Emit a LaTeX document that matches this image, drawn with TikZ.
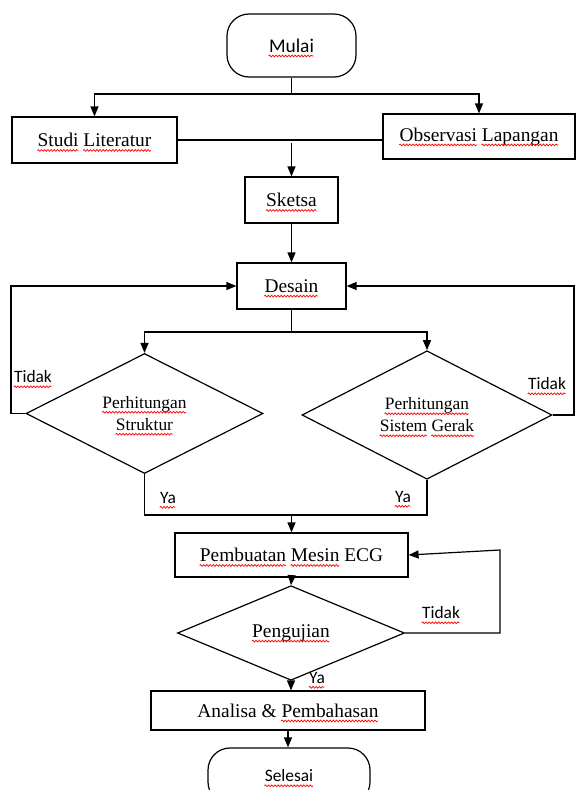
\documentclass[tikz,border=0pt]{standalone}
\usepackage{fontspec}
\setmainfont{Liberation Serif}
\newfontfamily\calfont{Carlito}
\usetikzlibrary{shapes.geometric,arrows.meta,decorations.pathmorphing}
\newsavebox\sqbox
\newlength\sqlen
\newcommand\sq[1]{\sbox\sqbox{#1}\setlength\sqlen{\wd\sqbox}\usebox\sqbox\llap{\smash{\tikz[baseline=0pt,x=1pt,y=1pt]\draw[red,line width=0.7pt,sharp corners,solid,decoration={snake,amplitude=0.9pt,segment length=3.2pt}] decorate {(0pt,-3.8pt) -- (\sqlen,-3.8pt)};}}}
\newcommand\bigtxt{\fontsize{19.4}{22}\selectfont}
\newcommand\midtxt{\fontsize{17.4}{22}\selectfont}
\tikzset{
  ln/.style={line width=1.2pt},
  arr/.style={line width=1.2pt, -{Triangle[length=10pt,width=8pt]}},
  box/.style={draw, line width=1.2pt, inner sep=0pt, font=\bigtxt},
  term/.style={box, rounded corners=22pt, font=\calfont\bigtxt},
  dec/.style={draw, diamond, line width=1.2pt, inner sep=0pt, align=center, font=\midtxt},
  lab/.style={inner sep=0pt, font=\calfont\midtxt},
}
\begin{document}
\begin{tikzpicture}[x=1pt,y=-1pt]
\useasboundingbox (0,0) rectangle (576,790);
\clip (0,0) rectangle (576,790);
% nodes
\node[term, minimum width=129pt, minimum height=63pt] (mulai) at (291.5,45.5) {\sq{Mulai}};
\node[box, minimum width=165pt, minimum height=46pt] (studi) at (94.5,140) {\sq{Studi} \sq{Literatur}};
\node[box, minimum width=192pt, minimum height=45pt] (obs) at (479,136.5) {\sq{Observasi} \sq{Lapangan}};
\node[box, minimum width=93pt, minimum height=46pt] (sketsa) at (291.5,200) {\sq{Sketsa}};
\node[box, minimum width=109pt, minimum height=46pt] (desain) at (291.5,286) {\sq{Desain}};
\node[dec, minimum width=237pt, minimum height=120pt] (d1) at (144.5,413.5) {\sq{Perhitungan}\\\sq{Struktur}};
\node[dec, minimum width=250pt, minimum height=120pt] (d2) at (427,415) {\sq{Perhitungan}\\\sq{Sistem} \sq{Gerak}};
\node[box, minimum width=233pt, minimum height=44pt] (pemb) at (291.5,555) {\sq{Pembuatan} \sq{Mesin} ECG};
\node[dec, minimum width=227pt, minimum height=72pt, font=\bigtxt] (uji) at (291,633) {\sq{Pengujian}};
\node[box, minimum width=274pt, minimum height=39pt] (analisa) at (288,710.5) {Analisa \& \sq{Pembahasan}};
\node[term, minimum width=162pt, minimum height=56pt, font=\calfont\midtxt] (selesai) at (289,776) {\sq{Selesai}};
% labels
\node[lab] (t1) at (33,377) {\sq{Tidak}};
\node[lab] (t2) at (547,384) {\sq{Tidak}};
\node[lab] (t3) at (441,613) {\sq{Tidak}};
\node[lab] (y1) at (168,498) {\sq{Ya}};
\node[lab] (y2) at (403,497) {\sq{Ya}};
\node[lab] (y3) at (317,678) {\sq{Ya}};
% junction coordinates
\coordinate (j1) at (291.5,94);
\coordinate (j2) at (291.5,143);
\coordinate (j3) at (291.5,332);
\coordinate (j4) at (291.5,515);
\coordinate (l1) at (11,413.5);
\coordinate (r1) at (574,415);
\coordinate (q1) at (500,633);
\coordinate (q2) at (500,550);
% connectors
\draw[ln] (mulai.south) -- (j1);
\draw[arr] (j1) -| (studi.north);
\draw[arr] (j1) -| (obs.north);
\draw[ln] (studi.east) -- (studi.east -| obs.west);
\draw[arr] (j2) -- (sketsa.north);
\draw[arr] (sketsa) -- (desain);
\draw[ln] (desain.south) -- (j3);
\draw[arr] (j3) -| (d1.north);
\draw[arr] (j3) -| (d2.north);
\draw[arr] (d1.west) -- (l1) |- (desain.west);
\draw[arr] (d2.east) -- (r1) |- (desain.east);
\draw[ln] (d1.south) |- (j4) -| (d2.south);
\draw[arr] (j4) -- (pemb.north);
\draw[arr] (pemb.south) -- (uji.north);
\draw[arr] (uji.east) -- (q1) -- (q2) -- (pemb.east);
\draw[arr] (uji.south) -- (uji.south |- analisa.north);
\draw[arr] (analisa.south) -- (analisa.south |- selesai.north);
\end{tikzpicture}
\end{document}
